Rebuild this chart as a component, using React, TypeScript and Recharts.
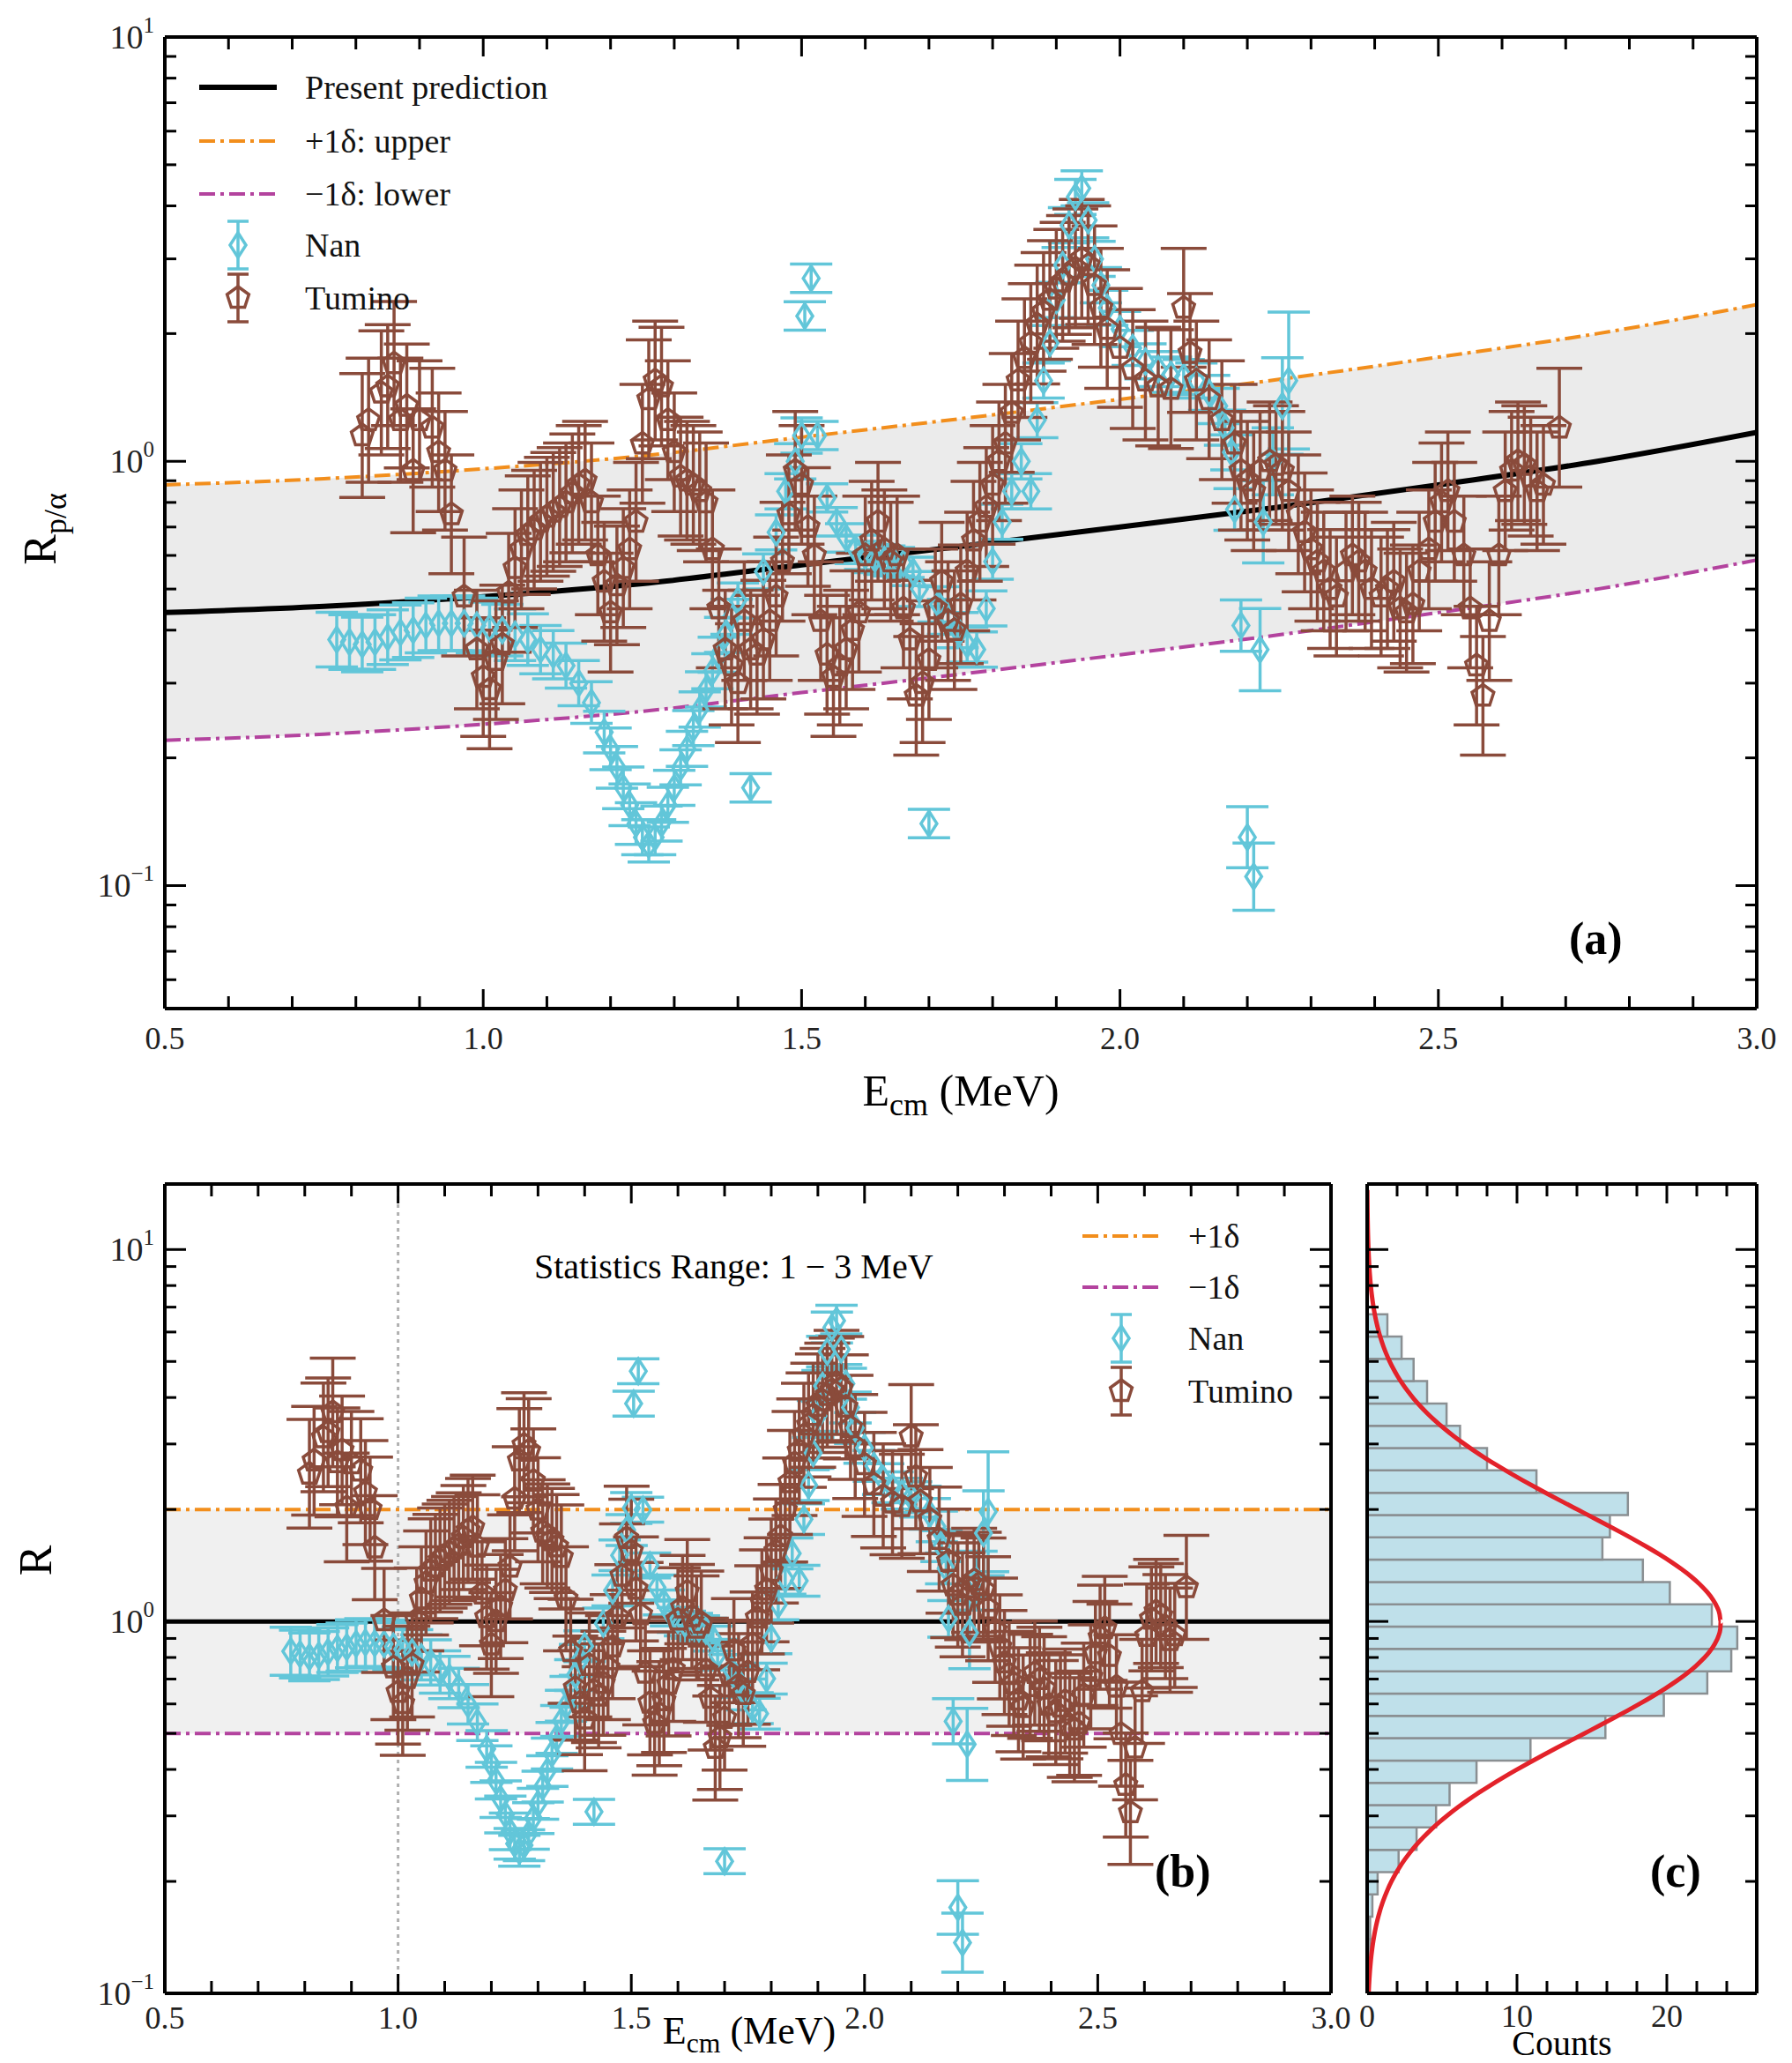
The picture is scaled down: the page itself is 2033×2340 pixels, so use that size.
import React from 'react';
import {
  ComposedChart,
  Scatter,
  ErrorBar,
  Line,
  Area,
  XAxis,
  YAxis,
  ReferenceArea,
  ReferenceLine,
} from 'recharts';

// ---- data ----
// present prediction R_p/alpha vs E_cm (MeV)
const predPoints: [number, number][] = [
  [0.5, 0.44], [0.75, 0.455], [1.0, 0.48], [1.25, 0.515], [1.5, 0.57], [1.75, 0.63],
  [2.0, 0.7], [2.25, 0.78], [2.5, 0.88], [2.75, 1.0], [3.0, 1.17],
];
const DELTA = 2; // +-1 delta factor

// [E, R, relative error]
const nanData: [number, number, number][] = [
  [0.77, 0.38, 0.16], [0.79, 0.375, 0.16], [0.81, 0.37, 0.16], [0.83, 0.375, 0.16], [0.85, 0.385, 0.16],
  [0.87, 0.395, 0.16], [0.89, 0.4, 0.16], [0.91, 0.41, 0.16], [0.93, 0.415, 0.16], [0.95, 0.415, 0.16],
  [0.97, 0.415, 0.16], [0.99, 0.41, 0.16], [1.01, 0.405, 0.15], [1.03, 0.4, 0.15], [1.05, 0.39, 0.15],
  [1.07, 0.38, 0.15], [1.09, 0.36, 0.14], [1.11, 0.35, 0.14], [1.13, 0.33, 0.13], [1.15, 0.3, 0.13],
  [1.17, 0.27, 0.12], [1.19, 0.23, 0.12], [1.2, 0.21, 0.12], [1.21, 0.19, 0.12], [1.22, 0.17, 0.12],
  [1.23, 0.155, 0.12], [1.24, 0.14, 0.12], [1.25, 0.13, 0.1], [1.26, 0.125, 0.1], [1.27, 0.13, 0.1],
  [1.28, 0.14, 0.1], [1.29, 0.155, 0.1], [1.3, 0.17, 0.1], [1.31, 0.19, 0.1], [1.32, 0.21, 0.1],
  [1.33, 0.235, 0.1], [1.34, 0.26, 0.1], [1.35, 0.29, 0.1], [1.36, 0.32, 0.1], [1.37, 0.35, 0.1],
  [1.38, 0.39, 0.1], [1.39, 0.43, 0.1], [1.4, 0.47, 0.1], [1.42, 0.17, 0.08], [1.44, 0.55, 0.1],
  [1.46, 0.68, 0.1], [1.475, 0.85, 0.1], [1.49, 1.0, 0.1], [1.5, 1.15, 0.1], [1.505, 2.2, 0.08],
  [1.515, 2.7, 0.08], [1.525, 1.15, 0.08], [1.54, 0.82, 0.08], [1.555, 0.72, 0.08], [1.57, 0.66, 0.08],
  [1.585, 0.62, 0.08], [1.6, 0.6, 0.08], [1.615, 0.59, 0.08], [1.63, 0.585, 0.08], [1.645, 0.58, 0.08],
  [1.66, 0.575, 0.08], [1.675, 0.55, 0.08], [1.685, 0.5, 0.1], [1.7, 0.14, 0.08], [1.715, 0.46, 0.1],
  [1.73, 0.43, 0.1], [1.745, 0.4, 0.1], [1.76, 0.37, 0.1], [1.775, 0.36, 0.1], [1.79, 0.45, 0.1],
  [1.8, 0.58, 0.1], [1.815, 0.72, 0.1], [1.83, 0.85, 0.1], [1.845, 1.0, 0.1], [1.86, 0.85, 0.1],
  [1.87, 1.25, 0.1], [1.88, 1.55, 0.1], [1.89, 1.9, 0.1], [1.9, 2.4, 0.1], [1.91, 2.9, 0.1],
  [1.92, 3.6, 0.1], [1.93, 4.2, 0.1], [1.94, 4.4, 0.1], [1.95, 3.7, 0.1], [1.96, 3.0, 0.1],
  [1.97, 2.6, 0.1], [1.98, 2.3, 0.1], [2.0, 2.05, 0.1], [2.02, 1.85, 0.1], [2.04, 1.72, 0.1],
  [2.06, 1.65, 0.1], [2.08, 1.6, 0.1], [2.1, 1.58, 0.1], [2.12, 1.55, 0.1], [2.14, 1.45, 0.1],
  [2.155, 1.35, 0.1], [2.165, 1.2, 0.1], [2.175, 1.05, 0.1], [2.18, 0.77, 0.12], [2.19, 0.41, 0.15],
  [2.2, 0.13, 0.18], [2.21, 0.105, 0.2], [2.22, 0.36, 0.25], [2.225, 0.72, 0.25], [2.24, 1.0, 0.2],
  [2.255, 1.35, 0.3], [2.265, 1.55, 0.45],
];

const tuminoData: [number, number, number][] = [
  [0.81, 1.15, 0.4], [0.82, 1.25, 0.4], [0.84, 1.45, 0.4], [0.85, 1.5, 0.4], [0.86, 1.7, 0.4],
  [0.87, 1.25, 0.4], [0.88, 1.35, 0.4], [0.89, 0.95, 0.4], [0.9, 1.25, 0.38], [0.92, 1.2, 0.38],
  [0.93, 1.05, 0.38], [0.94, 0.95, 0.38], [0.95, 0.75, 0.38], [0.97, 0.48, 0.38], [0.99, 0.36, 0.38],
  [1.0, 0.31, 0.38], [1.01, 0.29, 0.38], [1.02, 0.34, 0.38], [1.03, 0.37, 0.38], [1.04, 0.49, 0.38],
  [1.05, 0.56, 0.38], [1.06, 0.62, 0.38], [1.07, 0.67, 0.38], [1.08, 0.69, 0.38], [1.09, 0.72, 0.38],
  [1.1, 0.74, 0.38], [1.11, 0.76, 0.38], [1.12, 0.78, 0.38], [1.13, 0.8, 0.38], [1.14, 0.84, 0.38],
  [1.15, 0.88, 0.38], [1.16, 0.9, 0.38], [1.17, 0.8, 0.38], [1.18, 0.6, 0.38], [1.19, 0.52, 0.38],
  [1.2, 0.44, 0.38], [1.21, 0.51, 0.38], [1.22, 0.56, 0.38], [1.23, 0.62, 0.38], [1.24, 0.72, 0.38],
  [1.25, 1.1, 0.38], [1.26, 1.4, 0.38], [1.27, 1.55, 0.38], [1.28, 1.5, 0.38], [1.29, 1.25, 0.38],
  [1.3, 1.05, 0.38], [1.31, 0.92, 0.38], [1.32, 0.9, 0.38], [1.33, 0.88, 0.38], [1.34, 0.85, 0.38],
  [1.35, 0.8, 0.38], [1.36, 0.62, 0.38], [1.37, 0.45, 0.38], [1.38, 0.36, 0.38], [1.39, 0.33, 0.38],
  [1.4, 0.3, 0.38], [1.41, 0.42, 0.38], [1.42, 0.36, 0.38], [1.43, 0.35, 0.38], [1.44, 0.38, 0.38],
  [1.45, 0.42, 0.38], [1.46, 0.48, 0.38], [1.47, 0.58, 0.38], [1.48, 0.75, 0.38], [1.49, 0.95, 0.38],
  [1.5, 0.88, 0.38], [1.51, 0.7, 0.38], [1.52, 0.6, 0.38], [1.53, 0.42, 0.38], [1.54, 0.35, 0.38],
  [1.55, 0.31, 0.38], [1.56, 0.33, 0.38], [1.57, 0.36, 0.38], [1.58, 0.4, 0.38], [1.59, 0.44, 0.38],
  [1.6, 0.6, 0.38], [1.61, 0.65, 0.38], [1.62, 0.72, 0.38], [1.63, 0.62, 0.38], [1.64, 0.58, 0.38],
  [1.65, 0.6, 0.38], [1.66, 0.45, 0.38], [1.67, 0.38, 0.38], [1.68, 0.28, 0.38], [1.69, 0.3, 0.38],
  [1.7, 0.34, 0.38], [1.71, 0.45, 0.38], [1.72, 0.52, 0.38], [1.73, 0.42, 0.38], [1.74, 0.4, 0.38],
  [1.75, 0.46, 0.38], [1.76, 0.55, 0.38], [1.77, 0.65, 0.38], [1.78, 0.72, 0.38], [1.79, 0.78, 0.38],
  [1.8, 0.88, 0.38], [1.81, 1.0, 0.38], [1.82, 1.1, 0.38], [1.83, 1.3, 0.38], [1.84, 1.55, 0.38],
  [1.85, 1.75, 0.38], [1.86, 1.9, 0.38], [1.87, 2.1, 0.38], [1.88, 2.25, 0.38], [1.89, 2.4, 0.38],
  [1.9, 2.55, 0.38], [1.91, 2.65, 0.38], [1.92, 2.75, 0.38], [1.93, 2.85, 0.38], [1.94, 3.0, 0.38],
  [1.95, 2.9, 0.38], [1.96, 2.6, 0.38], [1.97, 2.3, 0.38], [1.98, 2.05, 0.38], [2.0, 1.85, 0.38],
  [2.02, 1.65, 0.38], [2.04, 1.55, 0.38], [2.06, 1.5, 0.38], [2.08, 1.48, 0.38], [2.1, 2.3, 0.38],
  [2.11, 1.8, 0.38], [2.12, 1.55, 0.38], [2.14, 1.4, 0.38], [2.16, 1.25, 0.38], [2.18, 1.1, 0.38],
  [2.19, 0.95, 0.38], [2.2, 0.9, 0.38], [2.21, 0.85, 0.38], [2.22, 0.95, 0.38], [2.235, 1.0, 0.38],
  [2.245, 0.98, 0.38], [2.255, 0.95, 0.38], [2.265, 0.85, 0.38], [2.28, 0.75, 0.38], [2.29, 0.68, 0.38],
  [2.3, 0.62, 0.38], [2.31, 0.58, 0.38], [2.32, 0.55, 0.38], [2.33, 0.5, 0.38], [2.34, 0.48, 0.38],
  [2.355, 0.55, 0.38], [2.365, 0.6, 0.38], [2.375, 0.58, 0.38], [2.385, 0.55, 0.38], [2.395, 0.5, 0.38],
  [2.41, 0.48, 0.38], [2.42, 0.5, 0.38], [2.43, 0.52, 0.38], [2.44, 0.45, 0.38], [2.45, 0.44, 0.38],
  [2.46, 0.46, 0.38], [2.47, 0.55, 0.38], [2.485, 0.62, 0.38], [2.495, 0.72, 0.38], [2.505, 0.8, 0.38],
  [2.515, 0.85, 0.38], [2.525, 0.72, 0.38], [2.54, 0.6, 0.38], [2.55, 0.45, 0.38], [2.56, 0.33, 0.38],
  [2.57, 0.28, 0.38], [2.58, 0.42, 0.38], [2.595, 0.6, 0.38], [2.605, 0.85, 0.38], [2.615, 0.95, 0.38],
  [2.625, 1.0, 0.38], [2.635, 0.98, 0.38], [2.645, 0.92, 0.38], [2.655, 0.85, 0.38], [2.665, 0.88, 0.38],
  [2.69, 1.2, 0.38],
];

// histogram of log10(R) in panel (c), bins counted from the bottom
const BIN_START = -0.914;
const BIN_WIDTH = 0.06;
const binCounts = [
  0.2, 0.2, 0.35, 0.7, 2.1, 3.3, 4.6, 5.5, 7.3, 10.9, 15.9, 19.8, 22.7, 24.3, 24.7,
  23, 20.2, 18.4, 15.7, 16.2, 17.4, 11.3, 8.0, 6.2, 5.3, 4.0, 3.1, 2.3, 1.35,
];
// gaussian fit of log10(R)
const FIT = { amp: 23.6, mu: -0.005, sigma: 0.3 };

const xTicks = [0.5, 0.6, 0.7, 0.8, 0.9, 1.0, 1.1, 1.2, 1.3, 1.4, 1.5, 1.6, 1.7, 1.8, 1.9, 2.0,
  2.1, 2.2, 2.3, 2.4, 2.5, 2.6, 2.7, 2.8, 2.9, 3.0];
const yTicksA = [0.06, 0.07, 0.08, 0.09, 0.1, 0.2, 0.3, 0.4, 0.5, 0.6, 0.7, 0.8, 0.9, 1, 2, 3, 4, 5, 6, 7, 8, 9, 10];
const yTicksB = [0.1, 0.2, 0.3, 0.4, 0.5, 0.6, 0.7, 0.8, 0.9, 1, 2, 3, 4, 5, 6, 7, 8, 9, 10];
const countTicks = [0, 2, 4, 6, 8, 10, 12, 14, 16, 18, 20, 22, 24];

// ---- styles ----
const FONT = '"Liberation Serif", "DejaVu Serif", serif';
const CYAN = '#62c6d9';
const BROWN = '#8a4b3b';
const ORANGE = '#f28e1c';
const MAGENTA = '#b3439e';
const TICK_FS = 36;

const pred = (e: number) => {
  for (let i = 1; i < predPoints.length; i++) {
    const [e0, r0] = predPoints[i - 1];
    const [e1, r1] = predPoints[i];
    if (e <= e1) return r0 + ((r1 - r0) * (e - e0)) / (e1 - e0);
  }
  return predPoints[predPoints.length - 1][1];
};

const toPoints = (rows: [number, number, number][], ratio: boolean) =>
  rows.map(([x, r, f]) => {
    const y = ratio ? r / pred(x) : r;
    return { x, y, err: [y - y / (1 + f), y * f] };
  });

const predLine = predPoints.map(([x, y]) => ({ x, y, band: [y / DELTA, y * DELTA] }));
const upperLine = predPoints.map(([x, y]) => ({ x, y: y * DELTA }));
const lowerLine = predPoints.map(([x, y]) => ({ x, y: y / DELTA }));
const flat = (v: number) => [{ x: 0.5, y: v }, { x: 3.0, y: v }];

const gaussLine: { x: number; y: number }[] = [];
for (let l = -1; l <= 1.18; l += 0.02) {
  gaussLine.push({ x: FIT.amp * Math.exp(-((l - FIT.mu) ** 2) / (2 * FIT.sigma ** 2)), y: Math.pow(10, l) });
}

const Pentagon = (props: any) => {
  const { cx, cy } = props;
  if (cx == null || cy == null) return null;
  const pts = [0, 1, 2, 3, 4]
    .map((k) => {
      const a = ((-90 + 72 * k) * Math.PI) / 180;
      return `${cx + 13 * Math.cos(a)},${cy + 13 * Math.sin(a)}`;
    })
    .join(' ');
  return <polygon points={pts} fill="none" stroke={BROWN} strokeWidth={3.5} />;
};

const Diamond = (props: any) => {
  const { cx, cy } = props;
  if (cx == null || cy == null) return null;
  return (
    <polygon
      points={`${cx},${cy - 14} ${cx + 9},${cy} ${cx},${cy + 14} ${cx - 9},${cy}`}
      fill="none"
      stroke={CYAN}
      strokeWidth={3.5}
    />
  );
};

type Plot = { l: number; t: number; r: number; b: number };

const isHalf = (v: number) => Math.abs(v * 2 - Math.round(v * 2)) < 1e-6;
const isDecade = (v: number) => Math.abs(Math.log10(v) - Math.round(Math.log10(v))) < 1e-6;

const bottomTick = (p: Plot, major: (v: number) => boolean, fmt: (v: number) => string, dy = 46) =>
  (props: any) => {
    const x = props.payload.coordinate;
    const m = major(props.payload.value);
    return (
      <g>
        <line x1={x} x2={x} y1={p.b} y2={p.b - (m ? 22 : 14)} stroke="#000" strokeWidth={3} />
        {m && (
          <text x={x} y={p.b + dy} textAnchor="middle" fontSize={TICK_FS} fontFamily={FONT} fill="#222">
            {fmt(props.payload.value)}
          </text>
        )}
      </g>
    );
  };

const topTick = (p: Plot, major: (v: number) => boolean) => (props: any) => {
  const x = props.payload.coordinate;
  const m = major(props.payload.value);
  return <line x1={x} x2={x} y1={p.t} y2={p.t + (m ? 22 : 14)} stroke="#000" strokeWidth={3} />;
};

const leftTick = (p: Plot, labels: boolean) => (props: any) => {
  const y = props.payload.coordinate;
  const v = props.payload.value;
  const m = isDecade(v);
  const e = Math.round(Math.log10(v));
  return (
    <g>
      <line x1={p.l} x2={p.l + (m ? 24 : 13)} y1={y} y2={y} stroke="#000" strokeWidth={3} />
      {labels && m && (
        <text x={p.l - 12} y={y + 13} textAnchor="end" fontSize={TICK_FS + 2} fontFamily={FONT} fill="#222">
          <tspan>10</tspan>
          <tspan dy={-18} fontSize={25}>{e < 0 ? `\u2212${-e}` : `${e}`}</tspan>
        </text>
      )}
    </g>
  );
};

const rightTick = (p: Plot) => (props: any) => {
  const y = props.payload.coordinate;
  const m = isDecade(props.payload.value);
  return <line x1={p.r} x2={p.r - (m ? 24 : 13)} y1={y} y2={y} stroke="#000" strokeWidth={3} />;
};

const frame = { stroke: '#000', strokeWidth: 4 };
const fmtE = (v: number) => v.toFixed(1);

const sample = (color: string, dash?: string, w = 4) => (
  <svg width={92} height={20} style={{ verticalAlign: 'middle' }}>
    <line x1={2} x2={90} y1={10} y2={10} stroke={color} strokeWidth={w} strokeDasharray={dash} />
  </svg>
);
const markerSample = (kind: 'nan' | 'tum') => (
  <svg width={92} height={70} style={{ verticalAlign: 'middle' }}>
    <line x1={46} x2={46} y1={8} y2={62} stroke={kind === 'nan' ? CYAN : BROWN} strokeWidth={3.5} />
    <line x1={34} x2={58} y1={8} y2={8} stroke={kind === 'nan' ? CYAN : BROWN} strokeWidth={3.5} />
    <line x1={34} x2={58} y1={62} y2={62} stroke={kind === 'nan' ? CYAN : BROWN} strokeWidth={3.5} />
    {kind === 'nan' ? <Diamond cx={46} cy={35} /> : <Pentagon cx={46} cy={35} />}
  </svg>
);

const legendRow = (top: number, left: number, icon: React.ReactNode, label: string) => (
  <div style={{ position: 'absolute', top: top - 35, left, height: 70, display: 'flex', alignItems: 'center', gap: 30, fontSize: 38, color: '#111', whiteSpace: 'nowrap' }}>
    {icon}
    <span>{label}</span>
  </div>
);

const axisTitle = (left: number, width: number, top: number, content: React.ReactNode, fs = 50) => (
  <div style={{ position: 'absolute', left, width, top, textAlign: 'center', fontSize: fs, lineHeight: 1, whiteSpace: 'nowrap' }}>
    {content}
  </div>
);
const eTitle = (fs: number) => (
  <>
    E<sub style={{ fontSize: fs * 0.72, lineHeight: 0, verticalAlign: -fs * 0.22 }}>cm</sub> (MeV)
  </>
);

export default function App() {
  const DASH = '18 6 4 6';
  // panel (a)
  const pa: Plot = { l: 187, t: 42, r: 1993, b: 1144 };
  const A_W = 2033, A_H = 1250;
  // panel (b); the box is a bit wider than the plot so the "3.0" label is not clipped
  const B_TOP = 1250;
  const pb: Plot = { l: 187, t: 93, r: 1510, b: 1011 };
  const B_W = 1545, B_H = 1090;
  // panel (c)
  const C_LEFT = 1510;
  const pc: Plot = { l: 41, t: 93, r: 483, b: 1011 };
  const C_W = 523, C_H = 1090;

  const nanA = toPoints(nanData, false);
  const tumA = toPoints(tuminoData, false);
  const nanB = toPoints(nanData, true);
  const tumB = toPoints(tuminoData, true);

  const margin = (p: Plot, w: number, h: number) => ({ left: p.l - 1, top: p.t - 1, right: w - p.r - 1, bottom: h - p.b - 1 });

  const axesE = (p: Plot, yDomain: number[], yT: number[], dy: number) => [
    <XAxis key="xb" xAxisId="b" dataKey="x" type="number" domain={[0.5, 3.0]} ticks={xTicks} interval={0}
      allowDataOverflow height={1} axisLine={frame} tickLine={false} tick={bottomTick(p, isHalf, fmtE, dy)} />,
    <XAxis key="xt" xAxisId="t" orientation="top" dataKey="x" type="number" domain={[0.5, 3.0]} ticks={xTicks}
      interval={0} allowDataOverflow height={1} axisLine={frame} tickLine={false} tick={topTick(p, isHalf)} />,
    <YAxis key="yl" yAxisId="l" scale="log" type="number" domain={yDomain} ticks={yT} interval={0}
      allowDataOverflow width={1} axisLine={frame} tickLine={false} tick={leftTick(p, true)} />,
    <YAxis key="yr" yAxisId="r" orientation="right" scale="log" type="number" domain={yDomain} ticks={yT}
      interval={0} allowDataOverflow width={1} axisLine={frame} tickLine={false} tick={rightTick(p)} />,
  ];

  const ids = { xAxisId: 'b', yAxisId: 'l' };

  return (
    <div style={{ position: 'relative', width: 2033, height: 2340, margin: -8, fontFamily: FONT, background: '#fff', overflow: 'hidden' }}>
      {/* panel (a) */}
      <div style={{ position: 'absolute', left: 0, top: 0 }}>
        <ComposedChart width={A_W} height={A_H} margin={margin(pa, A_W, A_H)}>
          {axesE(pa, [0.0513, 10], yTicksA, 46)}
          <Area {...ids} data={predLine} dataKey="band" type="monotone" fill="#ebebeb" fillOpacity={1} stroke="none" isAnimationActive={false} />
          <Line {...ids} data={upperLine} dataKey="y" type="monotone" stroke={ORANGE} strokeWidth={4} strokeDasharray={DASH} dot={false} isAnimationActive={false} />
          <Line {...ids} data={lowerLine} dataKey="y" type="monotone" stroke={MAGENTA} strokeWidth={4} strokeDasharray={DASH} dot={false} isAnimationActive={false} />
          <Line {...ids} data={predLine} dataKey="y" type="monotone" stroke="#000" strokeWidth={6} dot={false} isAnimationActive={false} />
          <Scatter {...ids} data={nanA} dataKey="y" shape={Diamond} isAnimationActive={false}>
            <ErrorBar dataKey="err" direction="y" width={24} stroke={CYAN} strokeWidth={3.5} />
          </Scatter>
          <Scatter {...ids} data={tumA} dataKey="y" shape={Pentagon} isAnimationActive={false}>
            <ErrorBar dataKey="err" direction="y" width={26} stroke={BROWN} strokeWidth={3.5} />
          </Scatter>
        </ComposedChart>
        {legendRow(99, 224, sample('#000', undefined, 6), 'Present prediction')}
        {legendRow(160, 224, sample(ORANGE, DASH), '+1\u03b4: upper')}
        {legendRow(220, 224, sample(MAGENTA, DASH), '\u22121\u03b4: lower')}
        {legendRow(278, 224, markerSample('nan'), 'Nan')}
        {legendRow(338, 224, markerSample('tum'), 'Tumino')}
        <div style={{ position: 'absolute', left: 1780, top: 1035, fontSize: 52, fontWeight: 'bold' }}>(a)</div>
        {axisTitle(0, 2180, 1212, eTitle(50))}
        <div style={{ position: 'absolute', left: 50, top: 600, fontSize: 52, transform: 'translate(-50%,-50%) rotate(-90deg)', whiteSpace: 'nowrap' }}>
          R<sub style={{ fontSize: 36 }}>{'p/\u03b1'}</sub>
        </div>
      </div>

      {/* panel (b) */}
      <div style={{ position: 'absolute', left: 0, top: B_TOP }}>
        <ComposedChart width={B_W} height={B_H} margin={margin(pb, B_W, B_H)}>
          {axesE(pb, [0.1, 15], yTicksB, 40)}
          <ReferenceArea {...ids} x1={0.5} x2={3.0} y1={1 / DELTA} y2={DELTA} fill="#f0f0f0" fillOpacity={1} stroke="none" ifOverflow="hidden" />
          <ReferenceLine {...ids} x={1.0} stroke="#b0b0b0" strokeWidth={3} strokeDasharray="4 5" />
          <Line {...ids} data={flat(DELTA)} dataKey="y" stroke={ORANGE} strokeWidth={4} strokeDasharray={DASH} dot={false} isAnimationActive={false} />
          <Line {...ids} data={flat(1 / DELTA)} dataKey="y" stroke={MAGENTA} strokeWidth={4} strokeDasharray={DASH} dot={false} isAnimationActive={false} />
          <Line {...ids} data={flat(1)} dataKey="y" stroke="#000" strokeWidth={5} dot={false} isAnimationActive={false} />
          <Scatter {...ids} data={nanB} dataKey="y" shape={Diamond} isAnimationActive={false}>
            <ErrorBar dataKey="err" direction="y" width={24} stroke={CYAN} strokeWidth={3.5} />
          </Scatter>
          <Scatter {...ids} data={tumB} dataKey="y" shape={Pentagon} isAnimationActive={false}>
            <ErrorBar dataKey="err" direction="y" width={26} stroke={BROWN} strokeWidth={3.5} />
          </Scatter>
        </ComposedChart>
        <div style={{ position: 'absolute', left: 606, top: 163, fontSize: 40, whiteSpace: 'nowrap' }}>{'Statistics Range: 1 \u2212 3 MeV'}</div>
        {legendRow(152, 1226, sample(ORANGE, DASH), '+1\u03b4')}
        {legendRow(210, 1226, sample(MAGENTA, DASH), '\u22121\u03b4')}
        {legendRow(268, 1226, markerSample('nan'), 'Nan')}
        {legendRow(328, 1226, markerSample('tum'), 'Tumino')}
        <div style={{ position: 'absolute', left: 1310, top: 843, fontSize: 52, fontWeight: 'bold' }}>(b)</div>
        {axisTitle(0, 1700, 1032, eTitle(44), 44)}
        <div style={{ position: 'absolute', left: 40, top: 520, fontSize: 52, transform: 'translate(-50%,-50%) rotate(-90deg)' }}>R</div>
      </div>

      {/* panel (c) */}
      <div style={{ position: 'absolute', left: C_LEFT, top: B_TOP }}>
        <ComposedChart width={C_W} height={C_H} margin={margin(pc, C_W, C_H)}>
          <XAxis xAxisId="b" dataKey="x" type="number" domain={[0, 26]} ticks={countTicks} interval={0} allowDataOverflow
            height={1} axisLine={frame} tickLine={false} tick={bottomTick(pc, (v) => v % 10 === 0, (v) => String(v), 38)} />
          <XAxis xAxisId="t" orientation="top" dataKey="x" type="number" domain={[0, 26]} ticks={countTicks} interval={0}
            allowDataOverflow height={1} axisLine={frame} tickLine={false} tick={topTick(pc, (v) => v % 10 === 0)} />
          <YAxis yAxisId="l" scale="log" type="number" domain={[0.1, 15]} ticks={yTicksB} interval={0} allowDataOverflow
            width={1} axisLine={frame} tickLine={false} tick={leftTick(pc, false)} />
          <YAxis yAxisId="r" orientation="right" scale="log" type="number" domain={[0.1, 15]} ticks={yTicksB} interval={0}
            allowDataOverflow width={1} axisLine={frame} tickLine={false} tick={rightTick(pc)} />
          {binCounts.map((c, k) => (
            <ReferenceArea key={k} {...ids} x1={0} x2={c} y1={Math.pow(10, BIN_START + k * BIN_WIDTH)}
              y2={Math.pow(10, BIN_START + (k + 1) * BIN_WIDTH)} fill="#bfe0ea" fillOpacity={1} stroke="#8a8f92" strokeWidth={2.5} />
          ))}
          <Line {...ids} data={gaussLine} dataKey="y" type="monotone" stroke="#e3222a" strokeWidth={5} dot={false} isAnimationActive={false} />
        </ComposedChart>
        <div style={{ position: 'absolute', left: 362, top: 843, fontSize: 52, fontWeight: 'bold' }}>(c)</div>
        {axisTitle(41, 442, 1048, 'Counts', 40)}
      </div>
    </div>
  );
}
